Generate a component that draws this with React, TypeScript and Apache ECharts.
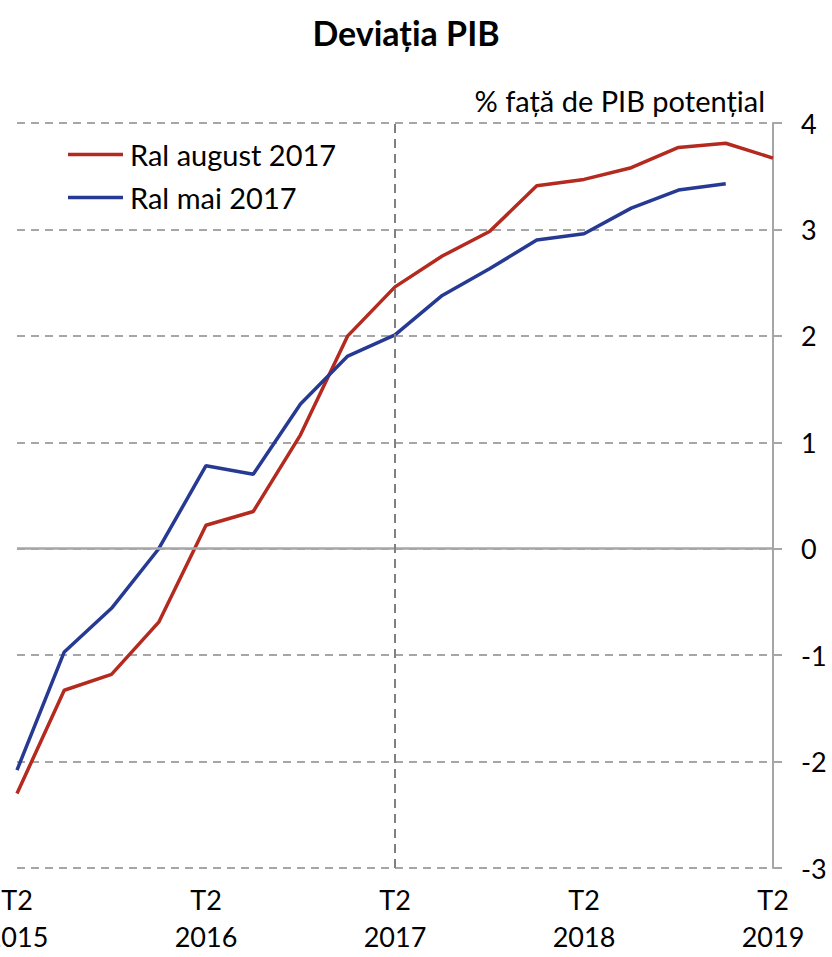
import React, { useEffect, useRef } from "react";
import * as echarts from "echarts";

const categories = [
  "T2 2015", "T3 2015", "T4 2015",
  "T1 2016", "T2 2016", "T3 2016", "T4 2016",
  "T1 2017", "T2 2017", "T3 2017", "T4 2017",
  "T1 2018", "T2 2018", "T3 2018", "T4 2018",
  "T1 2019", "T2 2019",
];

const ralAugust2017 = [
  -2.3, -1.33, -1.18, -0.69, 0.22, 0.35, 1.07, 2.0, 2.46, 2.75, 2.98,
  3.41, 3.47, 3.58, 3.77, 3.81, 3.67,
];

const ralMai2017 = [
  -2.08, -0.97, -0.56, 0.0, 0.78, 0.7, 1.36, 1.81, 2.01, 2.38, 2.63,
  2.9, 2.96, 3.2, 3.37, 3.43,
];

const FONT = "Lato";

export default function App() {
  const ref = useRef<HTMLDivElement>(null);

  useEffect(() => {
    if (!ref.current) return;
    const chart = echarts.init(ref.current, null, { renderer: "svg" });
    chart.setOption({
      animation: false,
      backgroundColor: "#ffffff",
      textStyle: { fontFamily: FONT },
      title: {
        text: "Deviația PIB",
        left: 401,
        top: 10,
        textAlign: "center",
        textStyle: { fontFamily: FONT, fontSize: 34, fontWeight: "bold", color: "#000" },
      },
      graphic: [
        {
          type: "text",
          right: 67,
          top: 86,
          style: {
            text: "% față de PIB potențial",
            fontFamily: FONT,
            fontSize: 29,
            fill: "#000",
          },
        },
      ],
      legend: {
        orient: "vertical",
        left: 68,
        top: 140,
        padding: 0,
        icon: "rect",
        itemWidth: 55,
        itemHeight: 3.5,
        itemGap: 14,
        textStyle: { fontFamily: FONT, fontSize: 29, color: "#000", padding: [0, 0, 0, 2] },
        data: ["Ral august 2017", "Ral mai 2017"],
      },
      grid: { left: 17, right: 59, top: 123, bottom: 89, containLabel: false, outerBoundsMode: "none" },
      xAxis: {
        type: "category",
        data: categories,
        boundaryGap: false,
        axisLine: { show: false },
        axisTick: { show: false },
        splitLine: { show: false },
        axisLabel: {
          interval: 3,
          margin: 13,
          fontFamily: FONT,
          fontSize: 27,
          lineHeight: 37,
          color: "#000",
          formatter: (v: string) => v.replace(" ", "\n"),
        },
      },
      yAxis: {
        type: "value",
        position: "right",
        min: -3,
        max: 4,
        interval: 1,
        axisLine: { show: true, lineStyle: { color: "#a6a6a6", width: 2 } },
        axisTick: { show: true, length: 9, lineStyle: { color: "#a6a6a6", width: 2 } },
        axisLabel: {
          margin: 28,
          fontFamily: FONT,
          fontSize: 27,
          color: "#000",
          align: "left",
        },
        splitLine: {
          show: true,
          lineStyle: { color: "#a6a6a6", width: 2, type: [8, 6] },
        },
      },
      series: [
        {
          name: "Ral august 2017",
          type: "line",
          data: ralAugust2017,
          symbol: "none",
          lineStyle: { color: "#B42A1E", width: 3.5 },
          itemStyle: { color: "#B42A1E" },
          z: 3,
          markLine: {
            silent: true,
            symbol: "none",
            label: { show: false },
            data: [
              { yAxis: 0, lineStyle: { color: "#a6a6a6", width: 2.5, type: "solid" } },
              { xAxis: "T2 2017", lineStyle: { color: "#808080", width: 2, type: [9, 6] } },
            ],
          },
        },
        {
          name: "Ral mai 2017",
          type: "line",
          data: ralMai2017,
          symbol: "none",
          lineStyle: { color: "#263A94", width: 3.5 },
          itemStyle: { color: "#263A94" },
          z: 4,
        },
      ],
    });
    return () => chart.dispose();
  }, []);

  return (
    <div
      ref={ref}
      style={{ position: "absolute", left: 0, top: 0, width: 832, height: 957 }}
    />
  );
}
